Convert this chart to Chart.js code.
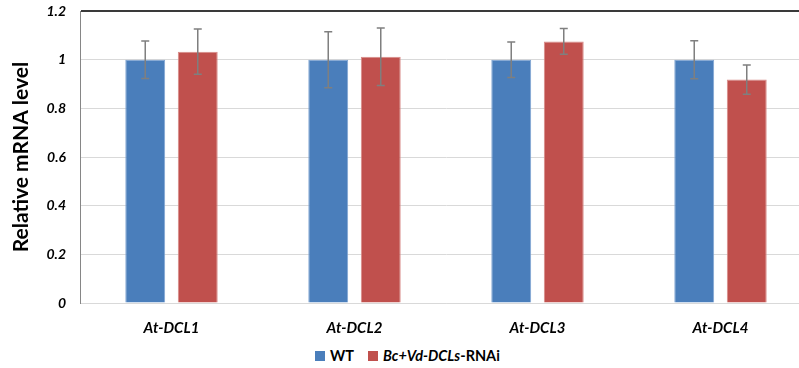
<!DOCTYPE html>
<html>
<head>
<meta charset="utf-8">
<script src="https://cdn.jsdelivr.net/npm/chart.js@4.4.0/dist/chart.umd.min.js"></script>
<style>
  html, body { margin: 0; padding: 0; background: #fff; overflow: hidden; }
  #wrap { position: relative; width: 812px; height: 368px; }
  #legend { position: absolute; left: 8px; top: 347px; width: 799px; display: flex; justify-content: center; align-items: center;
            font-family: Lato, "Open Sans", sans-serif; font-weight: bold; font-size: 14.5px; color: #000; }
  .item { display: flex; align-items: center; margin: 0 7px; }
  .sw { width: 10px; height: 10px; margin-right: 5px; }
</style>
</head>
<body>
<div id="wrap">
  <canvas id="c" width="812" height="340"></canvas>
  <div id="legend"></div>
</div>
<script>
const categories = ["At-DCL1", "At-DCL2", "At-DCL3", "At-DCL4"];
const seriesNames = ["WT", "Bc+Vd-DCLs-RNAi"];
const seriesNamesHtml = ["WT", "<i>Bc+Vd-DCLs</i>-RNAi"];
const wtValues = [1.0, 1.0, 1.0, 1.0];
const wtErrors = [0.077, 0.115, 0.073, 0.078];
const rnaiValues = [1.033, 1.012, 1.075, 0.918];
const rnaiErrors = [0.093, 0.118, 0.053, 0.060];
const yTicks = [0, 0.2, 0.4, 0.6, 0.8, 1, 1.2];
const colors = ["#4a7ebb", "#c0504d"];

const errorBars = {
  id: "errorBars",
  afterDatasetsDraw(chart) {
    const ctx = chart.ctx;
    const y = chart.scales.y;
    ctx.save();
    ctx.strokeStyle = "#7f7f7f";
    ctx.lineWidth = 1.5;
    chart.data.datasets.forEach((ds, i) => {
      const meta = chart.getDatasetMeta(i);
      meta.data.forEach((bar, j) => {
        const v = ds.data[j], e = ds.errors[j];
        const x = bar.x;
        const yt = y.getPixelForValue(v + e), yb = y.getPixelForValue(v - e);
        ctx.beginPath();
        ctx.moveTo(x, yt); ctx.lineTo(x, yb);
        ctx.moveTo(x - 4, yt); ctx.lineTo(x + 4, yt);
        ctx.moveTo(x - 4, yb); ctx.lineTo(x + 4, yb);
        ctx.stroke();
      });
    });
    ctx.restore();
  }
};

const chart = new Chart(document.getElementById("c"), {
  type: "bar",
  data: {
    labels: categories,
    datasets: [
      { label: seriesNames[0], data: wtValues, errors: wtErrors, backgroundColor: colors[0], borderColor: "#7fa4d2", borderWidth: 1,
        barPercentage: 0.76, categoryPercentage: 0.574 },
      { label: seriesNames[1], data: rnaiValues, errors: rnaiErrors, backgroundColor: colors[1], borderColor: "#d88a88", borderWidth: 1,
        barPercentage: 0.76, categoryPercentage: 0.574 }
    ]
  },
  options: {
    responsive: false,
    animation: false,
    layout: { padding: { left: 9, right: 0, top: 11, bottom: 0 } },
    plugins: { legend: { display: false }, tooltip: { enabled: false } },
    scales: {
      x: {
        grid: { display: false, drawTicks: false },
        border: { color: "#d9d9d9", width: 1 },
        ticks: { color: "#000", padding: 16, font: { family: "Lato", size: 15, weight: "bold", style: "italic" } },
        afterFit(s) { s.height = 37; s.paddingLeft = 0; s.paddingRight = 0; }
      },
      y: {
        min: 0, max: 1.2,
        afterBuildTicks(s) { s.ticks = yTicks.map(v => ({ value: v })); },
        grid: {
          drawTicks: false,
          color: c => (c.tick && Math.abs(c.tick.value - 1.2) < 1e-9) ? "#3a3a3a" : "#d9d9d9",
          lineWidth: c => (c.tick && Math.abs(c.tick.value - 1.2) < 1e-9) ? 2 : 1
        },
        border: { color: "#868686", width: 1 },
        ticks: { color: "#000", padding: 14, font: { family: "Lato", size: 14, weight: "bold", style: "italic" },
                 callback: v => String(v) },
        title: { display: true, text: "Relative mRNA level", color: "#000", padding: 0,
                 font: { family: "Lato", size: 21, weight: "bold" } },
        afterFit(s) { s.width = 71; s.paddingTop = 0; s.paddingBottom = 0; }
      }
    }
  },
  plugins: [errorBars]
});

const lg = document.getElementById("legend");
seriesNamesHtml.forEach((n, i) => {
  const d = document.createElement("div");
  d.className = "item";
  d.innerHTML = '<span class="sw" style="background:' + colors[i] + '"></span><span>' + n + '</span>';
  lg.appendChild(d);
});
</script>
</body>
</html>
